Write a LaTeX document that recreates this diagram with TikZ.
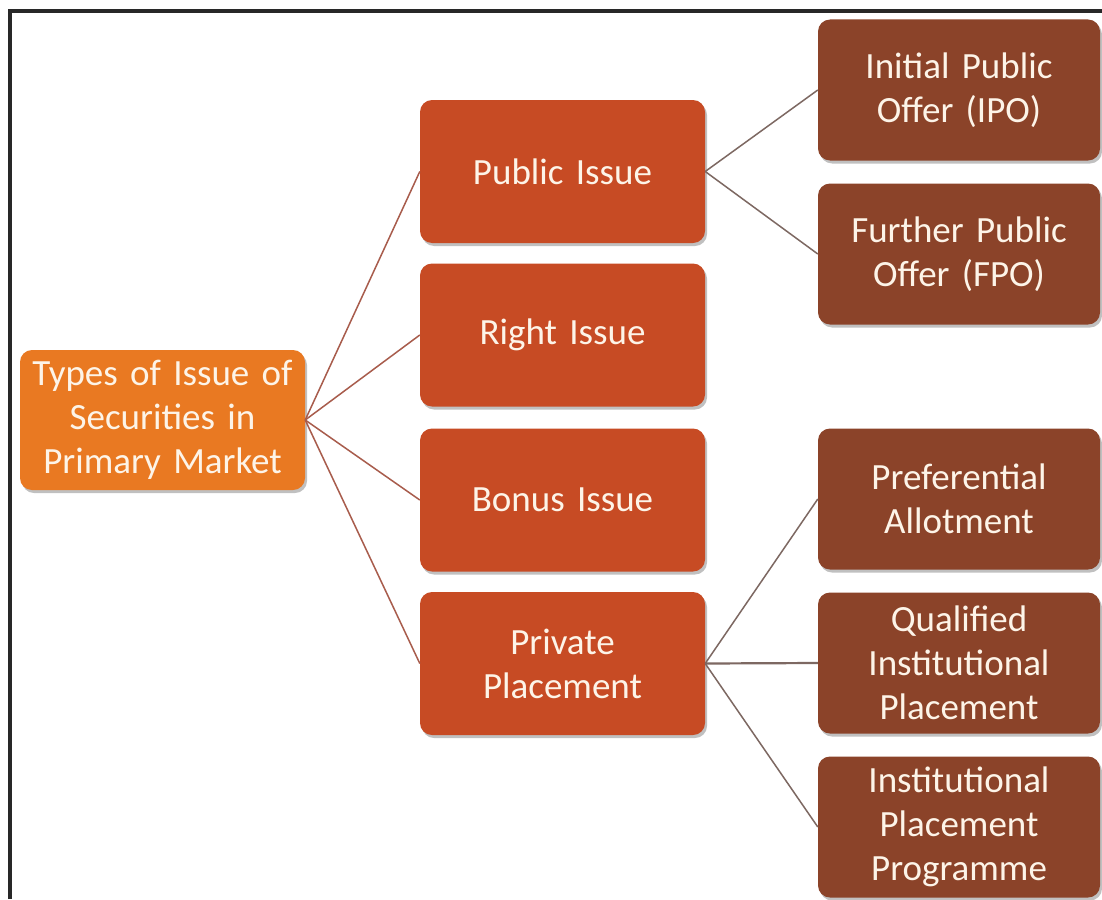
\documentclass[tikz,border=0pt]{standalone}
\usepackage{fontspec}
\setmainfont{Carlito}
\usetikzlibrary{shadows}
\definecolor{rootc}{RGB}{233,121,34}
\definecolor{lonec}{RGB}{199,75,36}
\definecolor{ltwoc}{RGB}{139,67,41}
\definecolor{txtc}{RGB}{253,244,232}
\definecolor{linkone}{RGB}{168,92,76}
\definecolor{linktwo}{RGB}{125,104,98}
\definecolor{framec}{RGB}{40,40,40}
\tikzset{
  boxbase/.style={rounded corners=12pt, text=txtc, align=center, inner sep=0pt,
    font=\fontsize{37}{44}\selectfont,
    drop shadow={shadow xshift=2pt, shadow yshift=-3pt, opacity=0.35, fill=black!70}},
  rootbox/.style={boxbase, fill=rootc, minimum width=285pt, minimum height=140pt, text width=282pt},
  onebox/.style={boxbase, fill=lonec, minimum width=285pt, minimum height=143pt, text width=282pt},
  twobox/.style={boxbase, fill=ltwoc, minimum width=282pt, minimum height=141pt, text width=279pt},
  linkA/.style={draw=linkone, line width=1.5pt},
  linkB/.style={draw=linktwo, line width=1.5pt},
}
\begin{document}
\begin{tikzpicture}[x=1pt,y=-1pt]
\useasboundingbox[fill=white] (0,0) rectangle (1102,899);
\draw[framec, line width=3.2pt] (10,899) -- (10,11) -- (1102,11);

\node[rootbox] (root) at (162.5,420) {Types of Issue of\\Securities in\\Primary Market};

\node[onebox] (pub) at (562.5,171.5) {Public Issue};
\node[onebox] (right) at (562.5,335) {Right Issue};
\node[onebox] (bonus) at (562.5,500) {Bonus Issue};
\node[onebox] (priv) at (562.5,663.5) {Private\\Placement};

\node[twobox] (ipo) at (959,90) {Initial Public\\Offer (IPO)};
\node[twobox] (fpo) at (959,254) {Further Public\\Offer (FPO)};
\node[twobox] (pref) at (959,499) {Preferential\\Allotment};
\node[twobox] (qip) at (959,663) {Qualified\\Institutional\\Placement};
\node[twobox] (ipp) at (959,827) {Institutional\\Placement\\Programme};

\foreach \t in {pub,right,bonus,priv}
  \draw[linkA] (root.east) -- (\t.west);
\draw[linkB] (pub.east) -- (ipo.west);
\draw[linkB] (pub.east) -- (fpo.west);
\draw[linkB] (priv.east) -- (pref.west);
\draw[linkB, line width=2.2pt] (priv.east) -- (qip.west);
\draw[linkB] (priv.east) -- (ipp.west);
\end{tikzpicture}
\end{document}
